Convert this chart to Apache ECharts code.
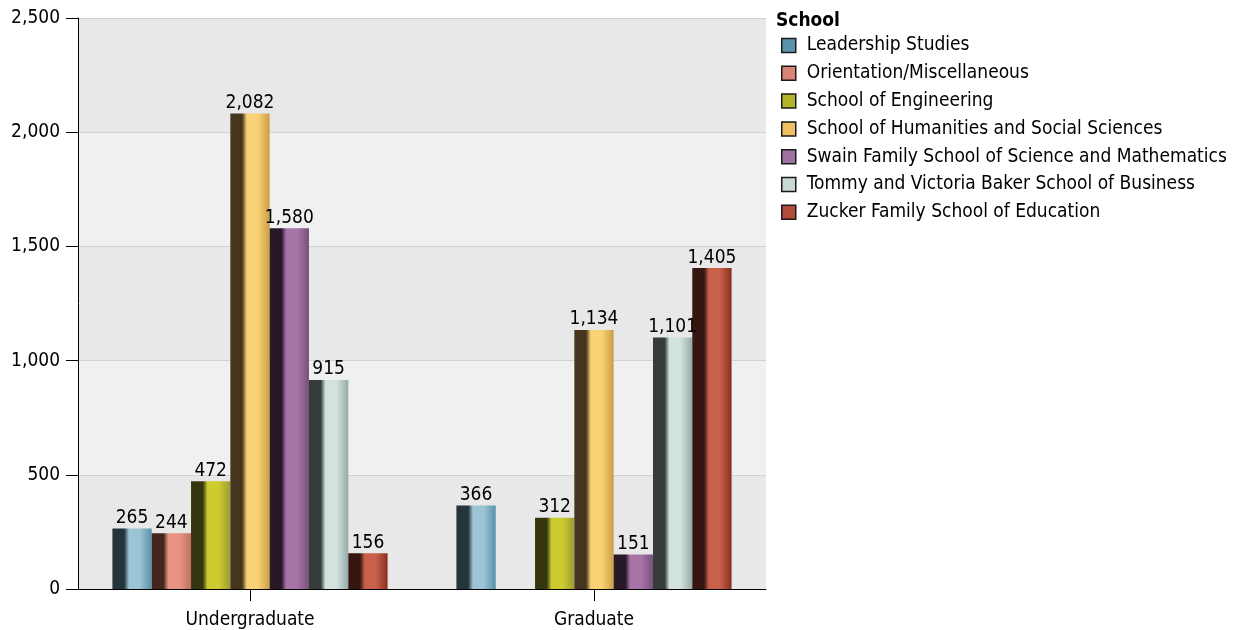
<!DOCTYPE html>
<html>
<head>
<meta charset="utf-8">
<script src="https://cdn.jsdelivr.net/npm/echarts@6/dist/echarts.min.js"></script>
<style>
html,body{margin:0;padding:0;background:#fff;}
#chart{width:1235px;height:630px;}
</style>
</head>
<body>
<div id="chart"></div>
<script>
const categories = ['Undergraduate', 'Graduate'];
const schools = [
  'Leadership Studies',
  'Orientation/Miscellaneous',
  'School of Engineering',
  'School of Humanities and Social Sciences',
  'Swain Family School of Science and Mathematics',
  'Tommy and Victoria Baker School of Business',
  'Zucker Family School of Education'
];
const leadership = [265, 366];
const orientation = [244, null];
const engineering = [472, 312];
const humanities = [2082, 1134];
const swain = [1580, 151];
const business = [915, 1101];
const zucker = [156, 1405];
const yTicks = [0, 500, 1000, 1500, 2000, 2500];

const seriesValues = [leadership, orientation, engineering, humanities, swain, business, zucker];
const palettes = [
  ['#24343a', '#9cc4d4', '#5890a8', '#5b93ac'],
  ['#44261f', '#e89484', '#c07060', '#d98474'],
  ['#36360e', '#cccc30', '#9c9c34', '#b4b428'],
  ['#463620', '#f8d274', '#cc9e44', '#f0c060'],
  ['#281828', '#a874a8', '#76507a', '#a070a0'],
  ['#363c3c', '#d2e2de', '#94aaa6', '#c8dad6'],
  ['#361610', '#c8604a', '#86301e', '#b04c38']
];

function grad(p) {
  return new echarts.graphic.LinearGradient(0, 0, 1, 0, [
    {offset: 0, color: p[0]},
    {offset: 0.3, color: p[0]},
    {offset: 0.42, color: p[1]},
    {offset: 0.7, color: p[1]},
    {offset: 1, color: p[2]}
  ]);
}

const FONT = '"DejaVu Sans Condensed", "DejaVu Sans", sans-serif';
const FS = 19;

const series = schools.map((name, i) => ({
  name: name,
  type: 'bar',
  data: seriesValues[i],
  barGap: '0%',
  barCategoryGap: '20%',
  itemStyle: {color: grad(palettes[i])},
  label: {
    show: true,
    position: 'top',
    distance: 1,
    color: '#000',
    fontFamily: FONT,
    fontSize: FS,
    formatter: p => p.value == null ? '' : Number(p.value).toLocaleString('en-US')
  },
  emphasis: {disabled: true}
}));

const chart = echarts.init(document.getElementById('chart'));
chart.setOption({
  animation: false,
  backgroundColor: '#fff',
  title: {
    text: 'School',
    left: 771,
    top: 7,
    textStyle: {fontFamily: FONT, fontSize: FS, fontWeight: 'bold', color: '#000'}
  },
  legend: {
    orient: 'vertical',
    left: 776,
    top: 31,
    icon: 'rect',
    itemWidth: 14,
    itemHeight: 14,
    itemGap: 8.8,
    textStyle: {fontFamily: FONT, fontSize: FS, color: '#000', padding: [0, 0, 0, 6]},
    data: schools.map((n, i) => ({
      name: n,
      itemStyle: {color: palettes[i][3], borderColor: '#1a1a1a', borderWidth: 1.5}
    }))
  },
  grid: {left: 78, right: 469, top: 18, bottom: 40.5, containLabel: false},
  xAxis: {
    type: 'category',
    data: categories,
    axisLine: {lineStyle: {color: '#000', width: 1}},
    axisTick: {show: true, alignWithLabel: true, length: 12, lineStyle: {color: '#000'}},
    axisLabel: {fontFamily: FONT, fontSize: FS, color: '#000', margin: 22}
  },
  yAxis: {
    type: 'value',
    min: yTicks[0],
    max: yTicks[yTicks.length - 1],
    interval: 500,
    axisLine: {show: true, lineStyle: {color: '#000', width: 1}},
    axisTick: {show: true, length: 12, lineStyle: {color: '#000'}},
    axisLabel: {
      fontFamily: FONT, fontSize: FS, color: '#000', margin: 18,
      formatter: v => Number(v).toLocaleString('en-US')
    },
    splitLine: {show: true, lineStyle: {color: '#d2d2d2', width: 1}},
    splitArea: {show: true, areaStyle: {color: ['#e8e8e8', '#f0f0f0']}}
  },
  series: series
});
</script>
</body>
</html>
